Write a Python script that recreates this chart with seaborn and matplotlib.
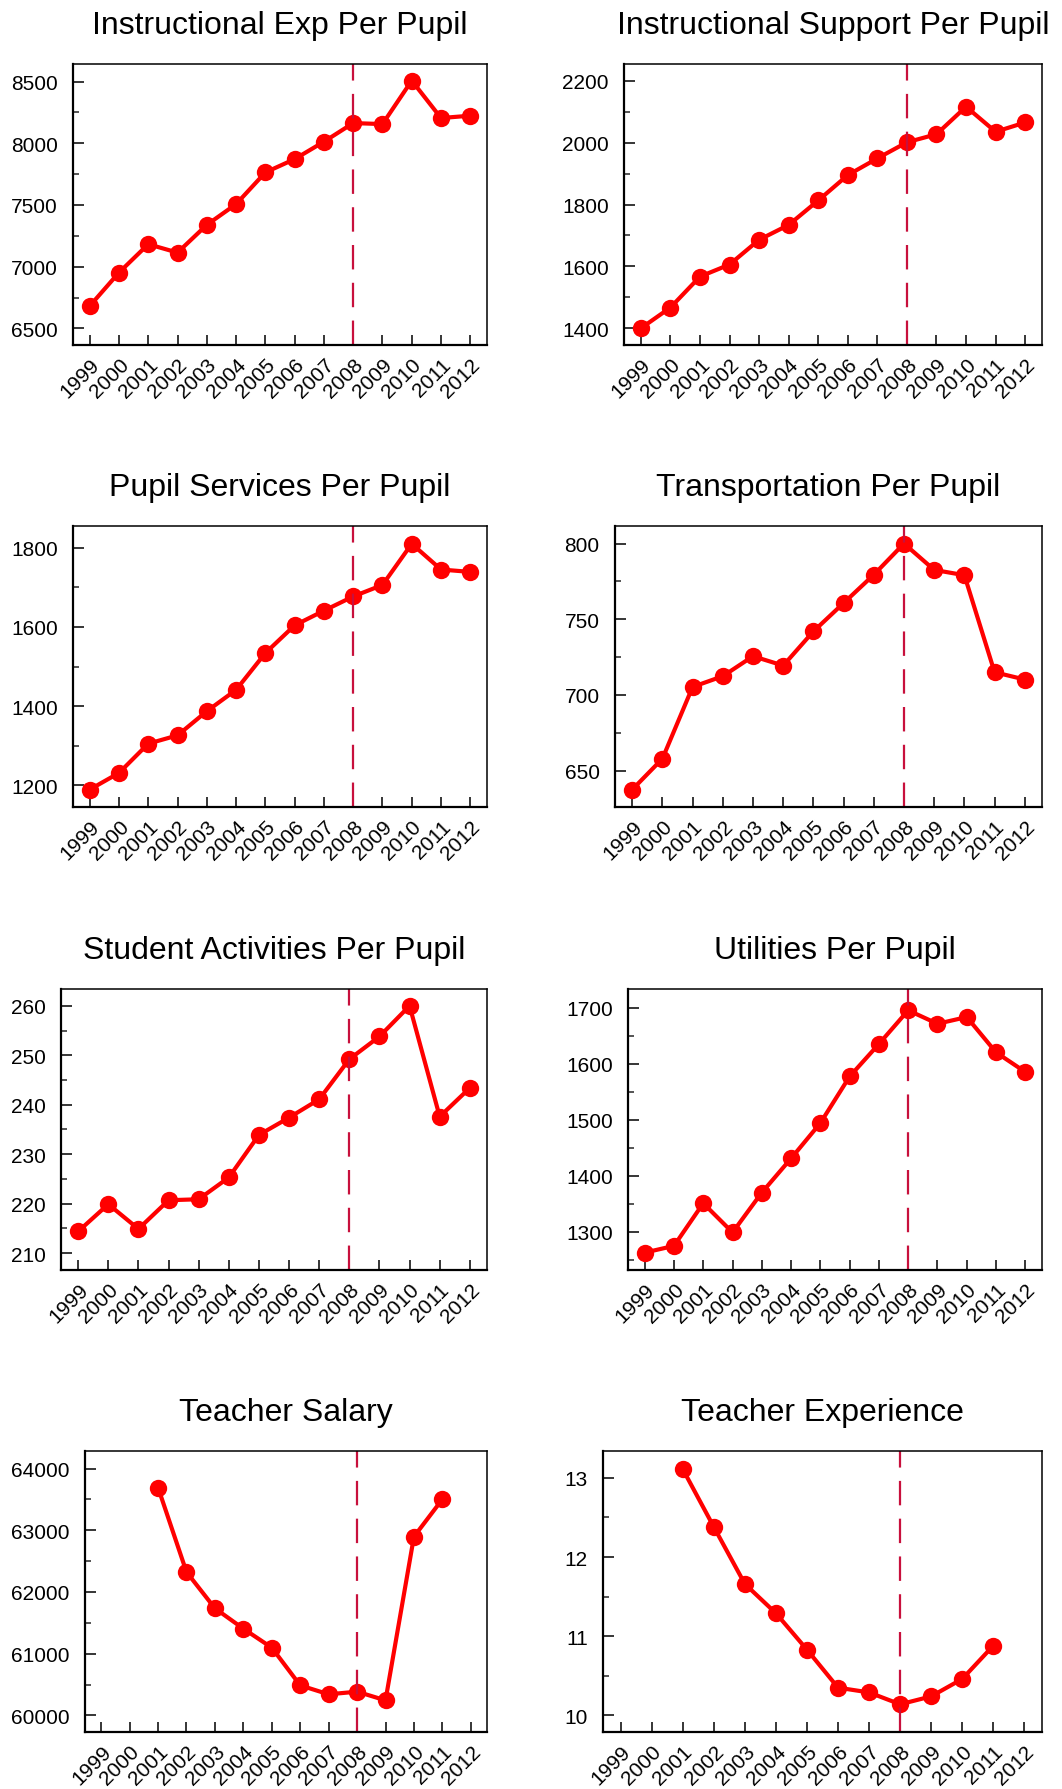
import numpy as np
import pandas as pd
import matplotlib
matplotlib.use("Agg")
import matplotlib.pyplot as plt
from matplotlib.ticker import MultipleLocator, FixedLocator
import seaborn as sns

# ---- data -------------------------------------------------------------
years = [1999, 2000, 2001, 2002, 2003, 2004, 2005, 2006, 2007, 2008, 2009, 2010, 2011, 2012]
recession_year = 2008

instructional_exp = [6681, 6952, 7182, 7114, 7339, 7507, 7764, 7872, 8013, 8164, 8156, 8508, 8205, 8224]
instructional_support = [1400, 1467, 1567, 1606, 1686, 1734, 1813, 1895, 1949, 2001, 2027, 2116, 2035, 2065]
pupil_services = [1189, 1231, 1305, 1326, 1387, 1441, 1534, 1604, 1641, 1677, 1706, 1810, 1745, 1739]
transportation = [637.5, 657.9, 705.3, 712.4, 725.6, 719.4, 742.0, 760.7, 779.4, 800.0, 782.6, 779.1, 715.0, 710.2]
student_activities = [214.4, 219.9, 214.9, 220.7, 220.9, 225.3, 233.9, 237.4, 241.1, 249.2, 253.8, 260.0, 237.6, 243.4]
utilities = [1263, 1275, 1351, 1299, 1370, 1431, 1494, 1577, 1635, 1695, 1671, 1683, 1620, 1585]
teacher_salary = [np.nan, np.nan, 63692, 62324, 61735, 61405, 61097, 60486, 60341, 60384, 60243, 62897, 63503, np.nan]
teacher_experience = [np.nan, np.nan, 13.11, 12.38, 11.66, 11.29, 10.83, 10.35, 10.29, 10.14, 10.24, 10.46, 10.88, np.nan]

titles = ["Instructional Exp Per Pupil", "Instructional Support Per Pupil",
          "Pupil Services Per Pupil", "Transportation Per Pupil",
          "Student Activities Per Pupil", "Utilities Per Pupil",
          "Teacher Salary", "Teacher Experience"]
series = [instructional_exp, instructional_support, pupil_services, transportation,
          student_activities, utilities, teacher_salary, teacher_experience]

# ---- per-panel axis settings -----------------------------------------
y_limits = [(6365, 8643), (1346, 2254), (1145, 1855), (626, 811.6),
            (206.6, 263.4), (1232, 1733), (59730, 64286), (9.79, 13.34)]
y_steps = [500, 200, 200, 50, 10, 100, 1000, 1]

# axes boxes in pixels: (left, right, top, bottom)
W, H = 1062, 1790
boxes = [(73, 487, 65, 346), (624, 1042, 65, 346),
         (73, 487, 527, 808), (615, 1042, 527, 808),
         (61, 487, 990, 1271), (628, 1042, 990, 1271),
         (85, 487, 1452, 1733), (603, 1042, 1452, 1733)]

sns.set_theme(style="white")
plt.rcParams["font.family"] = ["Liberation Sans", "DejaVu Sans"]

fig = plt.figure(figsize=(W / 100, H / 100), dpi=100)
fig.patch.set_facecolor("white")

for title, vals, ylim, step, (l, r, t, b) in zip(titles, series, y_limits, y_steps, boxes):
    ax = fig.add_axes([l / W, 1 - b / H, (r - l) / W, (b - t) / H])
    df = pd.DataFrame({"year": years, "value": vals})
    sns.lineplot(data=df, x="year", y="value", ax=ax, color="#FF0000",
                 linewidth=3.0, marker="o", markersize=12.5,
                 markeredgewidth=0, markeredgecolor="#FF0000")
    ax.axvline(recession_year, color="#C8103C", linewidth=1.6,
               dashes=(11, 6))

    ax.set_xlim(years[0] - 0.57, years[-1] + 0.57)
    ax.set_ylim(*ylim)
    ax.xaxis.set_major_locator(FixedLocator(years))
    ax.yaxis.set_major_locator(MultipleLocator(step))
    ax.yaxis.set_minor_locator(MultipleLocator(step / 2))
    ax.set_xticklabels([str(y) for y in years], rotation=45, ha="right",
                       rotation_mode="anchor")
    ax.tick_params(axis="x", which="major", direction="in", length=7,
                   width=1.1, pad=7, labelsize=15, colors="black", bottom=True)
    ax.tick_params(axis="y", which="major", direction="in", length=8,
                   width=1.1, pad=11, labelsize=15, colors="black", left=True)
    ax.tick_params(axis="y", which="minor", direction="in", length=4,
                   width=1.1, left=True)
    ax.set_xlabel("")
    ax.set_ylabel("")
    ax.set_title(title, fontsize=23, pad=22, color="black")
    for side, lw in (("left", 1.6), ("bottom", 1.6), ("top", 1.1), ("right", 1.1)):
        ax.spines[side].set_visible(True)
        ax.spines[side].set_color("black")
        ax.spines[side].set_linewidth(lw)

fig.savefig("out.png", dpi=100, facecolor="white")
